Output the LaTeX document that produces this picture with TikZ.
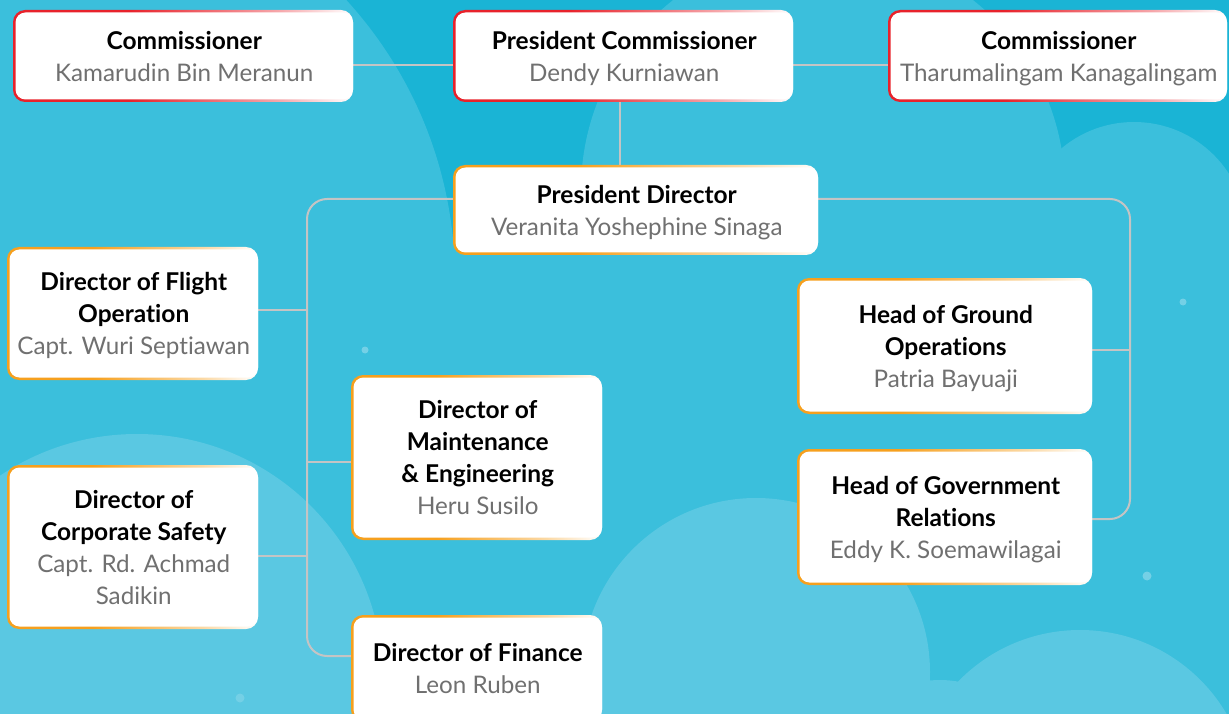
\documentclass[tikz,border=0pt]{standalone}
\usepackage{fontspec}
\setmainfont{Lato}[Ligatures=NoCommon]
\usetikzlibrary{calc}

% palette
\definecolor{skyDark}{HTML}{1AB4D5}
\definecolor{skyMid}{HTML}{3BBFDC}
\definecolor{skyLight}{HTML}{5AC8E2}
\definecolor{dotC}{HTML}{74D0E6}
\definecolor{edgeRed}{HTML}{E8222B}
\definecolor{edgeOrange}{HTML}{F6A01E}
\definecolor{connGray}{HTML}{C4C4C4}
\definecolor{nameGray}{HTML}{707070}
\colorlet{edgeRedSoft}{edgeRed!40!white}
\colorlet{edgeOrangeSoft}{edgeOrange!40!white}

% rims that fade out towards the right edge of a card
\pgfdeclarehorizontalshading{redrim}{100bp}{color(0bp)=(edgeRed); color(25bp)=(edgeRed); color(42bp)=(edgeRed); color(64bp)=(edgeRedSoft); color(75bp)=(white); color(100bp)=(white)}
\pgfdeclarehorizontalshading{orangerim}{100bp}{color(0bp)=(edgeOrange); color(25bp)=(edgeOrange); color(42bp)=(edgeOrange); color(64bp)=(edgeOrangeSoft); color(75bp)=(white); color(100bp)=(white)}

\pgfdeclarelayer{sky}
\pgfdeclarelayer{links}
\pgfsetlayers{sky,links,main}

\newcommand{\titlef}{\fontsize{24.5}{32}\selectfont\bfseries\color{black}}
\newcommand{\namef}{\fontsize{24.2}{32}\selectfont\mdseries\color{nameGray}}

\tikzset{
  card/.style={rectangle, rounded corners=10pt, fill=white, inner sep=0pt,
    align=center, text depth=0pt, font=\titlef},
  conn/.style={draw=connGray, line width=2pt},
}

% #1 name, #2 rim shading, #3 x1, #4 y1, #5 x2, #6 y2, #7 text
\newcommand{\orgcard}[7]{%
  \shade[shading=#2, rounded corners=12pt] (#3,#4) rectangle (#5,#6);
  \node[card, minimum width={#5-#3-2.5}, minimum height={#6-#4-5}]
    (#1) at ({(#3+#5)/2+1.25},{(#4+#6)/2}) {#7};
}

\begin{document}
\begin{tikzpicture}[x=1pt, y=-1pt]
\useasboundingbox (0,0) rectangle (1229,714);

\begin{pgfonlayer}{sky}
  \clip (0,0) rectangle (1229,714);
  \fill[skyDark] (0,0) rectangle (1229,714);
  % soft clouds
  \fill[skyMid] (40,280) circle[radius=415pt];
  \fill[skyMid] (823,190) circle[radius=242pt];
  \fill[skyMid] (1134,235) circle[radius=113pt];
  \fill[skyMid] (0,240) rectangle (1229,714);
  \fill[skyLight] (137,680) circle[radius=246pt];
  \fill[skyLight] (756,672) circle[radius=174pt];
  \fill[skyLight] (940,780) circle[radius=100pt];
  \fill[skyLight] (1080,800) circle[radius=170pt];
  % sparkles
  \fill[dotC] (365,350) circle[radius=3.5pt];
  \fill[dotC] (1183,302) circle[radius=3.5pt];
  \fill[dotC] (1147,576) circle[radius=4.5pt];
  \fill[dotC] (240,698) circle[radius=4.5pt];
\end{pgfonlayer}

% board of commissioners
\orgcard{cmL}{redrim}{13}{10}{353}{102}{Commissioner\\\namef Kamarudin Bin Meranun}
\orgcard{pc}{redrim}{453}{10}{793}{102}{President Commissioner\\\namef Dendy Kurniawan}
\orgcard{cmR}{redrim}{888}{10}{1227}{102}{Commissioner\\\namef Tharumalingam Kanagalingam}

% board of directors
\orgcard{pd}{orangerim}{453}{165}{818}{255}{President Director\\\namef Veranita Yoshephine Sinaga}
\orgcard{dfo}{orangerim}{7}{247}{258}{380}{Director of Flight\\Operation\\\namef Capt. Wuri Septiawan}
\orgcard{dcs}{orangerim}{7}{465}{258}{629}{Director of\\Corporate Safety\\\namef Capt. Rd. Achmad\\\namef Sadikin}
\orgcard{dme}{orangerim}{351}{375}{602}{540}{Director of\\Maintenance\\\& Engineering\\\namef Heru Susilo}
\orgcard{dfi}{orangerim}{351}{615}{602}{722}{Director of Finance\\\namef Leon Ruben}
\orgcard{hgo}{orangerim}{797}{278}{1092}{414}{Head of Ground\\Operations\\\namef Patria Bayuaji}
\orgcard{hgr}{orangerim}{797}{449}{1092}{585}{Head of Government\\Relations\\\namef Eddy K. Soemawilagai}

% junctions of the reporting lines
\coordinate (trunkL) at (307,199);
\coordinate (trunkLB) at (307,656);
\coordinate (jFO) at (307,310);
\coordinate (jME) at (307,462);
\coordinate (jCS) at (307,556);
\coordinate (trunkR) at (1130,199);
\coordinate (trunkRB) at (1130,519);
\coordinate (jGO) at (1130,350);
\coordinate (commY) at (0,65);
\coordinate (pcX) at (620,0);

\begin{pgfonlayer}{links}
  \draw[conn] (cmL.east |- commY) -- (pc.west |- commY);
  \draw[conn] (pc.east |- commY) -- (cmR.west |- commY);
  \draw[conn] (pc.south -| pcX) -- (pd.north -| pcX);
  \draw[conn, rounded corners=20pt] (pd.west |- trunkL) -- (trunkL) -- (trunkLB) -- (dfi.west |- trunkLB);
  \draw[conn] (dfo.east |- jFO) -- (jFO);
  \draw[conn] (dme.west |- jME) -- (jME);
  \draw[conn] (dcs.east |- jCS) -- (jCS);
  \draw[conn, rounded corners=20pt] (pd.east |- trunkR) -- (trunkR) -- (trunkRB) -- (hgr.east |- trunkRB);
  \draw[conn] (hgo.east |- jGO) -- (jGO);
\end{pgfonlayer}
\end{tikzpicture}
\end{document}
